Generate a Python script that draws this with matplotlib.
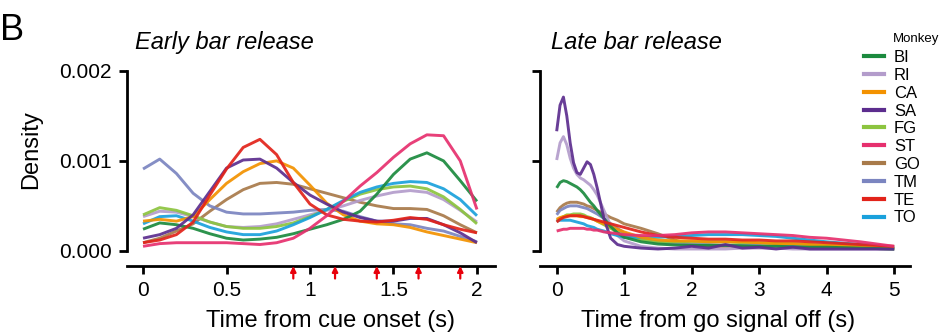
import matplotlib
matplotlib.use("Agg")
import matplotlib.pyplot as plt
import numpy as np
from matplotlib.lines import Line2D

plt.rcParams['font.family'] = ['Liberation Sans', 'DejaVu Sans']

monkeys = ["BI", "RI", "CA", "SA", "FG", "ST", "GO", "TM", "TE", "TO"]
colors = ["#1b8a3e", "#b39ccb", "#f39200", "#5c2d8e", "#8cc43f",
          "#e6306e", "#a87a4a", "#7b85c0", "#e2231a", "#1aa1dc"]

# Early bar release: time from cue onset (s); density in units of 1e-3
early_t = [0.0, 0.1, 0.2, 0.3, 0.4, 0.5, 0.6, 0.7, 0.8, 0.9, 1.0,
           1.1, 1.2, 1.3, 1.4, 1.5, 1.6, 1.7, 1.8, 1.9, 2.0]
early_BI = [0.24, 0.31, 0.29, 0.25, 0.19, 0.14, 0.12, 0.13, 0.15, 0.19, 0.24, 0.29, 0.35, 0.44, 0.63, 0.85, 1.02, 1.09, 1.00, 0.78, 0.55]
early_RI = [0.38, 0.44, 0.43, 0.38, 0.32, 0.27, 0.26, 0.27, 0.30, 0.35, 0.40, 0.45, 0.50, 0.56, 0.61, 0.65, 0.67, 0.65, 0.57, 0.45, 0.32]
early_CA = [0.33, 0.35, 0.33, 0.38, 0.57, 0.75, 0.88, 0.97, 1.00, 0.92, 0.73, 0.53, 0.40, 0.33, 0.30, 0.29, 0.26, 0.21, 0.17, 0.13, 0.09]
early_SA = [0.14, 0.18, 0.25, 0.40, 0.66, 0.92, 1.01, 1.02, 0.92, 0.76, 0.62, 0.52, 0.43, 0.37, 0.33, 0.33, 0.36, 0.36, 0.29, 0.20, 0.09]
early_FG = [0.40, 0.48, 0.45, 0.39, 0.32, 0.27, 0.25, 0.25, 0.27, 0.31, 0.38, 0.46, 0.55, 0.63, 0.68, 0.71, 0.72, 0.69, 0.60, 0.46, 0.30]
early_ST = [0.05, 0.08, 0.09, 0.09, 0.09, 0.09, 0.08, 0.07, 0.09, 0.14, 0.25, 0.39, 0.55, 0.72, 0.87, 1.04, 1.19, 1.29, 1.28, 1.00, 0.46]
early_GO = [0.09, 0.14, 0.22, 0.30, 0.44, 0.57, 0.68, 0.75, 0.76, 0.74, 0.69, 0.64, 0.59, 0.54, 0.50, 0.47, 0.47, 0.46, 0.39, 0.29, 0.20]
early_TM = [0.91, 1.02, 0.86, 0.64, 0.50, 0.43, 0.41, 0.41, 0.42, 0.43, 0.45, 0.46, 0.44, 0.38, 0.33, 0.30, 0.29, 0.25, 0.22, 0.16, 0.10]
early_TE = [0.09, 0.12, 0.18, 0.32, 0.62, 0.91, 1.15, 1.24, 1.07, 0.76, 0.52, 0.40, 0.35, 0.33, 0.32, 0.34, 0.37, 0.35, 0.29, 0.24, 0.20]
early_TO = [0.30, 0.38, 0.39, 0.33, 0.26, 0.21, 0.18, 0.18, 0.22, 0.29, 0.37, 0.46, 0.56, 0.65, 0.71, 0.75, 0.77, 0.76, 0.69, 0.57, 0.39]

# Late bar release: time from go signal off (s); density in units of 1e-3
late_t = [0.0, 0.05, 0.1, 0.15, 0.2, 0.25, 0.3, 0.35, 0.4, 0.45, 0.5, 0.55, 0.6,
          0.7, 0.8, 0.9, 1.0, 1.25, 1.5, 1.75, 2.0, 2.25, 2.5, 2.75, 3.0,
          3.25, 3.5, 3.75, 4.0, 4.5, 5.0]
late_BI = [0.70, 0.76, 0.78, 0.77, 0.75, 0.73, 0.71, 0.68, 0.64, 0.59, 0.54, 0.50, 0.45, 0.36, 0.27, 0.20, 0.15, 0.10, 0.075, 0.065, 0.06, 0.06, 0.06, 0.055, 0.05, 0.05, 0.045, 0.04, 0.04, 0.03, 0.02]
late_RI = [1.01, 1.20, 1.27, 1.18, 1.03, 0.92, 0.85, 0.81, 0.79, 0.76, 0.73, 0.68, 0.62, 0.45, 0.28, 0.17, 0.11, 0.05, 0.03, 0.02, 0.02, 0.02, 0.02, 0.03, 0.03, 0.03, 0.02, 0.02, 0.02, 0.02, 0.02]
late_CA = [0.35, 0.37, 0.38, 0.39, 0.39, 0.39, 0.39, 0.38, 0.38, 0.37, 0.36, 0.35, 0.33, 0.30, 0.27, 0.24, 0.21, 0.15, 0.12, 0.11, 0.11, 0.10, 0.10, 0.10, 0.09, 0.08, 0.08, 0.07, 0.06, 0.05, 0.03]
late_SA = [1.33, 1.62, 1.71, 1.50, 1.20, 0.98, 0.87, 0.85, 0.92, 0.99, 0.96, 0.85, 0.70, 0.36, 0.14, 0.07, 0.05, 0.03, 0.02, 0.03, 0.05, 0.03, 0.07, 0.03, 0.04, 0.02, 0.04, 0.02, 0.02, 0.02, 0.02]
late_FG = [0.33, 0.36, 0.38, 0.40, 0.40, 0.41, 0.41, 0.41, 0.40, 0.38, 0.37, 0.35, 0.33, 0.29, 0.25, 0.21, 0.18, 0.12, 0.10, 0.10, 0.10, 0.10, 0.10, 0.09, 0.09, 0.08, 0.08, 0.07, 0.06, 0.05, 0.03]
late_ST = [0.22, 0.23, 0.24, 0.24, 0.25, 0.25, 0.25, 0.25, 0.25, 0.24, 0.24, 0.23, 0.23, 0.21, 0.20, 0.19, 0.18, 0.17, 0.17, 0.18, 0.20, 0.21, 0.21, 0.20, 0.19, 0.18, 0.17, 0.15, 0.14, 0.10, 0.05]
late_GO = [0.43, 0.48, 0.51, 0.53, 0.54, 0.54, 0.54, 0.53, 0.52, 0.50, 0.49, 0.47, 0.45, 0.41, 0.37, 0.34, 0.30, 0.25, 0.19, 0.12, 0.07, 0.05, 0.05, 0.05, 0.04, 0.04, 0.04, 0.03, 0.03, 0.03, 0.02]
late_TM = [0.40, 0.45, 0.47, 0.49, 0.50, 0.50, 0.50, 0.49, 0.48, 0.47, 0.45, 0.43, 0.41, 0.36, 0.30, 0.25, 0.20, 0.13, 0.09, 0.08, 0.07, 0.07, 0.06, 0.06, 0.06, 0.05, 0.05, 0.04, 0.04, 0.03, 0.02]
late_TE = [0.32, 0.35, 0.37, 0.38, 0.39, 0.39, 0.39, 0.39, 0.38, 0.37, 0.36, 0.35, 0.34, 0.32, 0.30, 0.28, 0.26, 0.21, 0.17, 0.15, 0.14, 0.13, 0.13, 0.12, 0.12, 0.11, 0.11, 0.10, 0.09, 0.07, 0.05]
late_TO = [0.33, 0.34, 0.34, 0.34, 0.34, 0.33, 0.32, 0.31, 0.30, 0.28, 0.27, 0.26, 0.24, 0.22, 0.19, 0.17, 0.15, 0.15, 0.15, 0.16, 0.17, 0.18, 0.18, 0.18, 0.17, 0.16, 0.14, 0.12, 0.10, 0.07, 0.04]

arrow_times = [0.9, 1.15, 1.4, 1.65, 1.9]

early_ticks = [0, 0.5, 1, 1.5, 2]
early_ticklabels = ["0", "0.5", "1", "1.5", "2"]
late_ticks = [0, 1, 2, 3, 4, 5]
y_ticks = [0.0, 0.001, 0.002]
y_ticklabels = ["0.000", "0.001", "0.002"]

early = [early_BI, early_RI, early_CA, early_SA, early_FG, early_ST, early_GO, early_TM, early_TE, early_TO]
late = [late_BI, late_RI, late_CA, late_SA, late_FG, late_ST, late_GO, late_TM, late_TE, late_TO]

W, H = 941, 335
fig = plt.figure(figsize=(W / 100, H / 100), dpi=100)

def frac_rect(x0, x1, ytop, ybot):
    return [x0 / W, 1 - ybot / H, (x1 - x0) / W, (ybot - ytop) / H]

axL = fig.add_axes(frac_rect(127, 495, 71, 266))
axR = fig.add_axes(frac_rect(540, 910, 71, 266))

draw_order = [6, 7, 1, 4, 9, 2, 0, 3, 8, 5]
for ax, t, series, xl in [(axL, early_t, early, (-0.096, 2.108)),
                          (axR, late_t, late, (-0.247, 5.234))]:
    for i in draw_order:
        ax.plot(t, np.array(series[i]) * 1e-3, color=colors[i], lw=2.1,
                alpha=0.92, solid_joinstyle='round', solid_capstyle='butt', zorder=2)
    ax.set_xlim(*xl)
    ax.set_ylim(-0.000169, 0.002)
    ax.spines['top'].set_visible(False)
    ax.spines['right'].set_visible(False)
    ax.spines['left'].set_bounds(0, 0.002)
    ax.spines['left'].set_linewidth(2.0)
    ax.spines['bottom'].set_linewidth(2.0)
    ax.set_yticks(y_ticks)
    ax.tick_params(axis='both', length=6, width=2.0, labelsize=15, pad=5)
    ax.patch.set_visible(False)

axL.set_xticks(early_ticks)
axL.set_xticklabels(early_ticklabels)
axL.set_yticklabels(y_ticklabels)
axR.set_xticks(late_ticks)
axR.set_yticklabels([])

axL.set_xlabel("Time from cue onset (s)", fontsize=17)
axL.xaxis.set_label_coords(0.554, -0.225)
axR.set_xlabel("Time from go signal off (s)", fontsize=17)
axR.xaxis.set_label_coords(0.482, -0.225)

fig.text(31 / W, 1 - 150 / H, "Density", rotation=90, ha='center', va='center', fontsize=17)

# red arrows under early axis
for xa in arrow_times:
    axL.annotate("", xy=(xa, 0), xycoords=axL.get_xaxis_transform(),
                 xytext=(0, -9), textcoords='offset points',
                 arrowprops=dict(arrowstyle='-|>', color='#e8000b', lw=1.6,
                                 mutation_scale=8, shrinkA=0, shrinkB=0),
                 annotation_clip=False)

fig.text(135 / W, 1 - 49 / H, "Early bar release", fontsize=17, style='italic', va='baseline')
fig.text(551 / W, 1 - 49 / H, "Late bar release", fontsize=17, style='italic', va='baseline')
fig.text(0.0, 1 - 40 / H, "B", fontsize=26, va='baseline')

handles = [Line2D([], [], color=c, lw=3) for c in colors]
fig.legend(handles, monkeys, loc='upper left', bbox_to_anchor=(864 / W, 1 - 50 / H),
           frameon=False, fontsize=12, handlelength=1.2, handletextpad=0.6,
           labelspacing=0.17, borderpad=0, borderaxespad=0)
fig.text(893 / W, 1 - 42 / H, "Monkey", fontsize=9.5, va='baseline')

fig.savefig("out.png", dpi=100)
